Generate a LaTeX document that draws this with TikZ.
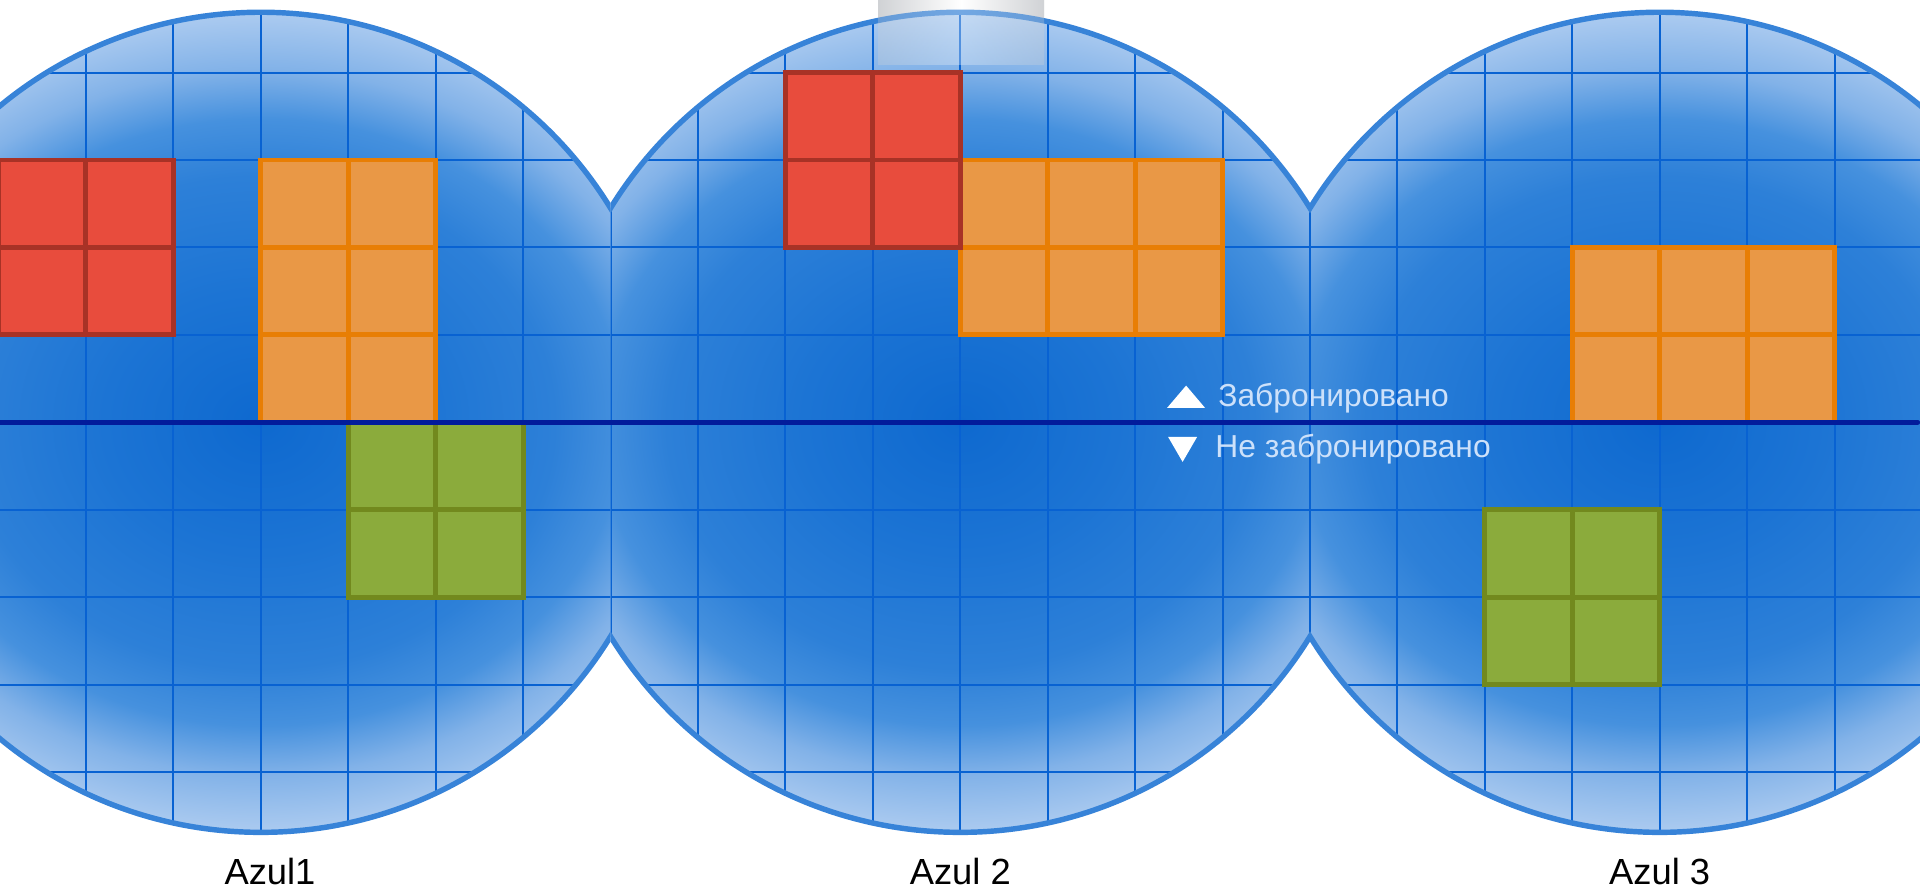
\documentclass[tikz,border=0pt]{standalone}
\usepackage{fontspec}
\setmainfont{Liberation Sans}
\usepackage{tikz}
\definecolor{wdark}{RGB}{14,105,207}
\definecolor{wmid}{RGB}{28,116,212}
\definecolor{wsoft}{RGB}{45,128,216}
\definecolor{wpale}{RGB}{70,145,222}
\definecolor{wfade}{RGB}{130,178,232}
\definecolor{wlight}{RGB}{172,203,240}
\definecolor{wedge}{RGB}{55,131,216}
\definecolor{wgrid}{RGB}{8,98,210}
\definecolor{axisnavy}{RGB}{2,28,155}
\definecolor{redfill}{RGB}{232,76,61}
\definecolor{redline}{RGB}{168,50,38}
\definecolor{orangefill}{RGB}{233,152,70}
\definecolor{orangeline}{RGB}{232,126,4}
\definecolor{greenfill}{RGB}{139,171,60}
\definecolor{greenline}{RGB}{114,137,30}
\definecolor{legendtext}{RGB}{205,225,250}
\definecolor{barside}{RGB}{208,210,213}
\pgfdeclareradialshading{wafer}{\pgfpoint{0bp}{0bp}}{color(0bp)=(wdark); color(8bp)=(wmid); color(15bp)=(wsoft); color(18.5bp)=(wpale); color(21.5bp)=(wfade); color(25bp)=(wlight); color(50bp)=(wlight)}

\begin{document}
\begin{tikzpicture}[x=1.75cm, y=1.75cm,
  gridline/.style={wgrid, line width=1.1pt},
  rim/.style={wedge, line width=3.1pt},
  cell/.style={line width=2.8pt},
  redcell/.style={cell, fill=redfill, draw=redline},
  orangecell/.style={cell, fill=orangefill, draw=orangeline},
  greencell/.style={cell, fill=greenfill, draw=greenline},
  legendlabel/.style={text=legendtext, font=\fontsize{18.1}{21}\selectfont, inner sep=0pt, anchor=base west},
  wafername/.style={font=\fontsize{20.7}{24}\selectfont, inner sep=0pt, anchor=base}]
  \useasboundingbox (-2.983,-5.407) rectangle (18.977,4.830);
  \clip (-2.983,-5.407) rectangle (18.977,4.830);
  \shade[left color=barside, right color=barside, middle color=white] (7.061,4.09) rectangle (8.958,4.9);
  \foreach \cx/\lo/\hi in {0/-5/4, 8/4/12, 16/12/21} {
    \begin{scope}
      \clip (\lo,-6) rectangle (\hi,6);
      \begin{scope}
        \clip (\cx,0) circle (4.69);
        \shade[shading=wafer] (\cx,0) ellipse (5.6 and 4.69);
        \foreach \gx in {-5,...,5} \draw[gridline] (\cx+\gx,-5) -- (\cx+\gx,5);
        \foreach \gy in {-4,...,4} \draw[gridline] (\cx-5,\gy) -- (\cx+5,\gy);
      \end{scope}
      \draw[rim] (\cx,0) circle (4.69);
    \end{scope}
  }
  \foreach \bx/\by/\bw/\bh/\bs in {0/0/2/3/orangecell, 8/1/3/2/orangecell, 15/0/3/2/orangecell,
      -3/1/2/2/redcell, 6/2/2/2/redcell, 1/-2/2/2/greencell, 14/-3/2/2/greencell}
    \foreach \i in {1,...,\bw}
      \foreach \j in {1,...,\bh}
        \draw[\bs] (\bx+\i-1,\by+\j-1) rectangle ++(1,1);
  \shade[left color=barside, right color=barside, middle color=white, opacity=0.3] (7.061,4.09) rectangle (8.958,4.9);
  \draw[axisnavy, line width=2.8pt, line cap=round] (-3,0) -- (18.95,0);
  \fill[white] (10.365,0.164) -- (10.583,0.42) -- (10.800,0.164) -- cycle;
  \fill[white] (10.377,-0.167) -- (10.709,-0.167) -- (10.543,-0.453) -- cycle;
  \node[legendlabel] (booked) at (10.948,0.186) {Забронировано};
  \node[legendlabel] (free) at (10.914,-0.397) {Не забронировано};
  \node[wafername] (azul1) at (0.105,-5.281) {Azul1};
  \node[wafername] (azul2) at (8,-5.281) {Azul 2};
  \node[wafername] (azul3) at (16,-5.281) {Azul 3};
\end{tikzpicture}
\end{document}
